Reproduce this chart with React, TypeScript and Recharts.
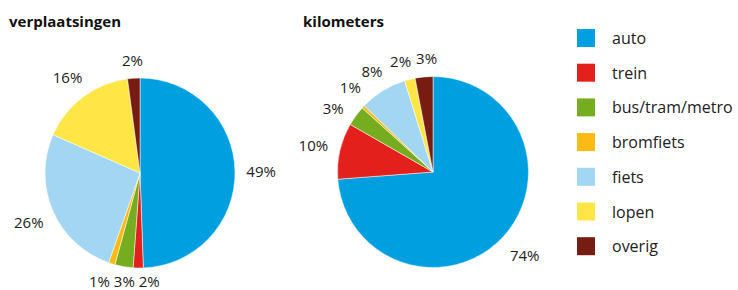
import React from 'react';
import { PieChart, Pie, Cell, Legend } from 'recharts';

const categories = ['auto', 'trein', 'bus/tram/metro', 'bromfiets', 'fiets', 'lopen', 'overig'];
const verplaatsingenValues = [49.4, 1.7, 3.1, 1.1, 26.2, 16.3, 2.1];
const verplaatsingenLabels = ['49%', '2%', '3%', '1%', '26%', '16%', '2%'];
const kilometersValues = [73.8, 9.5, 3.4, 0.5, 8.0, 1.8, 3.0];
const kilometersLabels = ['74%', '10%', '3%', '1%', '8%', '2%', '3%'];
const titles = ['verplaatsingen', 'kilometers'];

const colors = ['#009FE0', '#E3201B', '#76AC20', '#FBBA15', '#A2D6F2', '#FFE646', '#761C10'];
const FONT = '"Open Sans", "Noto Sans", sans-serif';

const verplaatsingenData = categories.map((name, i) => ({ name, value: verplaatsingenValues[i], label: verplaatsingenLabels[i] }));
const kilometersData = categories.map((name, i) => ({ name, value: kilometersValues[i], label: kilometersLabels[i] }));

// mid-angles (clockwise from top), spread apart so labels don't collide
function labelAngles(values: number[], minSep: number): number[] {
  const total = values.reduce((a, b) => a + b, 0);
  let acc = 0;
  const mids = values.map((v) => {
    const m = ((acc + v / 2) / total) * 360;
    acc += v;
    return m;
  });
  const n = mids.length;
  for (let it = 0; it < 200; it++) {
    for (let i = 0; i < n; i++) {
      const j = (i + 1) % n;
      const a = mids[i];
      const b = mids[j] + (j === 0 ? 360 : 0);
      const d = b - a;
      if (d < minSep) {
        const push = (minSep - d) / 2;
        mids[i] -= push;
        mids[j] += push;
      }
    }
  }
  return mids;
}

const angles1 = labelAngles(verplaatsingenValues, 12.5);
const angles2 = labelAngles(kilometersValues, 13);

function makeLabel(labels: string[], angles: number[]) {
  return (props: any) => {
    const { cx, cy, outerRadius, index } = props;
    const theta = (angles[index] * Math.PI) / 180;
    const dx = Math.sin(theta);
    const dy = -Math.cos(theta);
    const text = labels[index];
    const w = text.length * 10;
    const h = 14;
    const ext = Math.abs(dx) * (w / 2) + Math.abs(dy) * (h / 2);
    const r = outerRadius + 11 + ext;
    const x = cx + dx * r + 3 * Math.max(0, dy);
    const y = Math.min(cy + dy * r, 281);
    return (
      <text
        key={`l-${index}`}
        x={x}
        y={y}
        textAnchor="middle"
        dominantBaseline="central"
        fontFamily={FONT}
        fontSize={15}
        fill="#222"
      >
        {text}
      </text>
    );
  };
}

const renderLegend = () => (
  <svg width={161} height={230} style={{ display: 'block', overflow: 'visible' }}>
    {categories.map((c, i) => (
      <g key={c} transform={`translate(0, ${i * 34.7})`}>
        <rect x={0} y={0} width={18} height={18} fill={colors[i]} />
        <text x={35} y={15} fontFamily={FONT} fontSize={16} fill="#222">
          {c}
        </text>
      </g>
    ))}
  </svg>
);

export default function App() {
  return (
    <div style={{ position: 'absolute', left: 0, top: 0, width: 738, height: 290, background: '#fff' }}>
      <div style={{ position: 'absolute', left: 9, top: 11, fontFamily: FONT, fontWeight: 700, fontSize: 15, color: '#111', lineHeight: '20px' }}>
        {titles[0]}
      </div>
      <div style={{ position: 'absolute', left: 303, top: 11, fontFamily: FONT, fontWeight: 700, fontSize: 15, color: '#111', lineHeight: '20px' }}>
        {titles[1]}
      </div>
      <PieChart width={738} height={290} margin={{ top: 0, right: 0, bottom: 0, left: 0 }}>
        <Pie
          data={verplaatsingenData}
          dataKey="value"
          nameKey="name"
          cx={140}
          cy={173}
          outerRadius={95}
          startAngle={90}
          endAngle={-270}
          stroke="#fff"
          strokeWidth={0.5}
          label={makeLabel(verplaatsingenLabels, angles1)}
          labelLine={false}
          isAnimationActive={false}
        >
          {verplaatsingenData.map((d, i) => (
            <Cell key={d.name} fill={colors[i]} />
          ))}
        </Pie>
        <Pie
          data={kilometersData}
          dataKey="value"
          nameKey="name"
          cx={433}
          cy={172}
          outerRadius={95.5}
          startAngle={90}
          endAngle={-270}
          stroke="#fff"
          strokeWidth={0.5}
          label={makeLabel(kilometersLabels, angles2)}
          labelLine={false}
          isAnimationActive={false}
        >
          {kilometersData.map((d, i) => (
            <Cell key={d.name} fill={colors[i]} />
          ))}
        </Pie>
        <Legend
          content={renderLegend}
          wrapperStyle={{ position: 'absolute', left: 577, top: 29, width: 161, height: 230 }}
        />
      </PieChart>
    </div>
  );
}
